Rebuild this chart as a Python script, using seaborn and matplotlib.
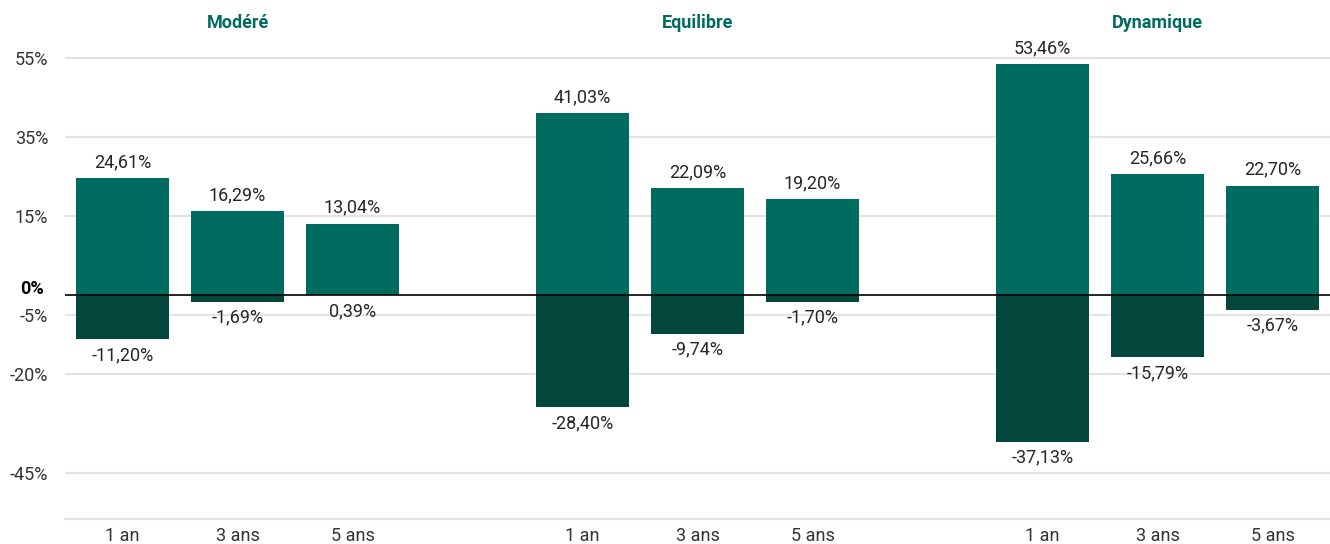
import numpy as np
import pandas as pd
import seaborn as sns
import matplotlib.pyplot as plt

# données (en %)
profils = ['Modéré', 'Equilibre', 'Dynamique']
periodes = ['1 an', '3 ans', '5 ans']
hauts_modere = [24.61, 16.29, 13.04]
bas_modere = [-11.20, -1.69, 0.39]
hauts_equilibre = [41.03, 22.09, 19.20]
bas_equilibre = [-28.40, -9.74, -1.70]
hauts_dynamique = [53.46, 25.66, 22.70]
bas_dynamique = [-37.13, -15.79, -3.67]
graduations = [55, 35, 15, -5, -20, -45]

VERT = '#006b5f'
VERT_FONCE = '#03463c'
GRIS = '#e3e3e3'
TEXTE = '#262626'

sns.set_style('white')
plt.rcParams['font.family'] = ['Roboto', 'DejaVu Sans']

# positions : 3 barres par profil, une case vide entre profils
positions = [0, 1, 2, 4, 5, 6, 8, 9, 10]
df = pd.DataFrame({
    'pos': positions,
    'periode': periodes * 3,
    'haut': hauts_modere + hauts_equilibre + hauts_dynamique,
    'bas': bas_modere + bas_equilibre + bas_dynamique,
})

fig = plt.figure(figsize=(13.3, 5.44), dpi=100)
ax = fig.add_axes([65 / 1330, 25 / 544, 1 - 65 / 1330, 489 / 544])

# comme sur l'original, la partie positive de l'axe est décalée de 5 points
DECALAGE = 5


def fwd(v):
    v = np.asarray(v, dtype=float)
    return np.where(v > 0, v + DECALAGE, v)


def inv(v):
    v = np.asarray(v, dtype=float)
    return np.where(v > DECALAGE, v - DECALAGE, np.minimum(v, 0))


sns.barplot(data=df, x='pos', y='bas', native_scale=True, width=0.81,
            color=VERT_FONCE, saturation=1, errorbar=None, linewidth=0, ax=ax, zorder=2)
sns.barplot(data=df, x='pos', y='haut', native_scale=True, width=0.81,
            color=VERT, saturation=1, errorbar=None, linewidth=0, ax=ax, zorder=3)

ax.set_yscale('function', functions=(fwd, inv))
ax.set_ylim(-56.7, 62.1)
ax.set_xlim(-0.5, 10.5)

for _, row in df.iterrows():
    ax.annotate(f"{row['haut']:.2f}%".replace('.', ','), (row['pos'], row['haut']),
                xytext=(0, 5), textcoords='offset points', ha='center', va='bottom',
                fontsize=13, color=TEXTE)
    ax.annotate(f"{row['bas']:.2f}%".replace('.', ','), (row['pos'], min(row['bas'], 0)),
                xytext=(0, -5), textcoords='offset points', ha='center', va='top',
                fontsize=13, color=TEXTE)

for i, profil in enumerate(profils):
    ax.text(positions[3 * i + 1], 1.014, profil, transform=ax.get_xaxis_transform(),
            ha='center', va='center', fontsize=13, fontweight='bold', color=VERT)

ax.set_yticks(graduations, [f'{g}%' for g in graduations])
ax.set_xticks(positions, df['periode'])
ax.annotate('0%', xy=(0, 0), xycoords=('axes fraction', 'data'), xytext=(-15, 4),
            textcoords='offset points', ha='right', va='center',
            fontsize=13, fontweight='bold', color='black')

ax.tick_params(axis='y', length=0, pad=12, labelsize=13, labelcolor='#333333')
ax.tick_params(axis='x', length=0, pad=6, labelsize=13, labelcolor='#333333')
ax.set_xlabel('')
ax.set_ylabel('')

ax.grid(axis='y', color=GRIS, linewidth=1.5)
ax.grid(axis='x', visible=False)
ax.set_axisbelow(True)
ax.axhline(0, color='black', linewidth=1.2, zorder=5)

for s in ['left', 'top', 'right']:
    ax.spines[s].set_visible(False)
ax.spines['bottom'].set_color(GRIS)
ax.spines['bottom'].set_linewidth(1.5)

fig.savefig('out.png', dpi=100)
